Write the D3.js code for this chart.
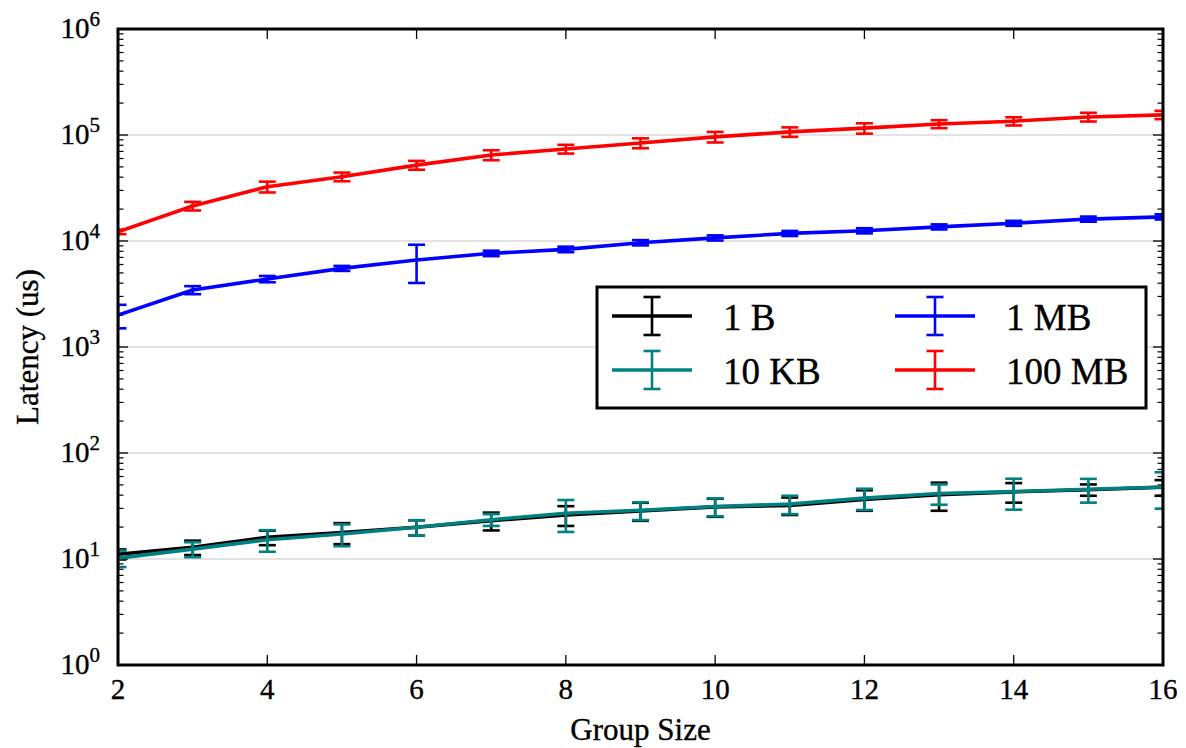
<!DOCTYPE html>
<html>
<head>
<meta charset="utf-8">
<script src="https://cdn.jsdelivr.net/npm/d3@7"></script>
<style>
  html, body { margin: 0; padding: 0; background: #fff; }
  svg { display: block; }
</style>
</head>
<body>
<svg id="chart" width="1186" height="748"></svg>
<script>
// ---- data ----
const groupSizes = [2, 3, 4, 5, 6, 7, 8, 9, 10, 11, 12, 13, 14, 15, 16];
const seriesNames = ["1 B", "10 KB", "1 MB", "100 MB"];
const seriesColors = ["#000000", "#008080", "#0000ff", "#ff0000"];

const lat1B   = [11.1, 12.9, 16.0, 17.8, 19.9, 23.0, 26.0, 28.4, 31.0, 32.0, 36.5, 40.5, 43.0, 45.0, 47.5];
const err1B   = [1.2, 2.0, 2.5, 4.0, 3.3, 4.4, 5.5, 5.5, 6.0, 6.0, 8.0, 12.0, 9.0, 5.5, 8.0];
const lat10KB = [10.2, 12.4, 15.2, 17.2, 19.9, 23.5, 27.0, 28.8, 31.3, 33.0, 37.5, 41.5, 43.2, 45.5, 47.8];
const err10KB = [1.8, 2.0, 3.5, 4.0, 3.3, 3.0, 9.0, 5.5, 6.0, 6.5, 8.5, 9.0, 14.0, 11.5, 18.0];
const lat1MB  = [2000, 3450, 4380, 5520, 6620, 7650, 8340, 9640, 10700, 11800, 12500, 13600, 14700, 16100, 16900];
const err1MB  = [500, 300, 300, 300, 2600, 450, 500, 550, 600, 650, 700, 750, 800, 900, 950];
const lat100MB = [12200, 21400, 32500, 40400, 52000, 64800, 73800, 84000, 96000, 107000, 116000, 127000, 135000, 148000, 155000];
const err100MB = [600, 2000, 3800, 3800, 5000, 7000, 7000, 9000, 11000, 11000, 13000, 11000, 12000, 14000, 14000];

const xTicks = [2, 4, 6, 8, 10, 12, 14, 16];
const yDecades = [0, 1, 2, 3, 4, 5, 6];

const seriesValues = [lat1B, lat10KB, lat1MB, lat100MB];
const seriesErrors = [err1B, err10KB, err1MB, err100MB];

// ---- layout ----
const FONT = '"Liberation Serif", "Times New Roman", serif';
const L = 118, R = 1163, T = 29, B = 665;
const svg = d3.select("#chart");
const x = d3.scaleLinear().domain([2, 16]).range([L, R]);
const y = d3.scaleLog().domain([1, 1e6]).range([B, T]);

function styleText(sel, size) {
  return sel.style("font-family", FONT).style("font-size", size + "px")
    .style("fill", "#000").style("stroke", "#000").style("stroke-width", "0.35px");
}

svg.append("defs").append("clipPath").attr("id", "plotclip")
  .append("rect").attr("x", L).attr("y", T).attr("width", R - L).attr("height", B - T);

// grid
svg.append("g").selectAll("line").data(yDecades.slice(1, -1)).join("line")
  .attr("x1", L).attr("x2", R)
  .attr("y1", d => y(Math.pow(10, d))).attr("y2", d => y(Math.pow(10, d)))
  .attr("stroke", "#c8c8c8").attr("stroke-width", 1.2);

// y ticks (major + minor), left and right, inward
const minorVals = [];
for (let e = 0; e < 6; e++) for (let m = 2; m <= 9; m++) minorVals.push(m * Math.pow(10, e));
const majorVals = yDecades.map(d => Math.pow(10, d));
const tickG = svg.append("g").attr("stroke", "#000");
[[L, 1], [R, -1]].forEach(([sx, dir]) => {
  tickG.append("g").selectAll("line").data(majorVals).join("line")
    .attr("x1", sx).attr("x2", sx + dir * 10)
    .attr("y1", d => y(d)).attr("y2", d => y(d)).attr("stroke-width", 1.3);
  tickG.append("g").selectAll("line").data(minorVals).join("line")
    .attr("x1", sx).attr("x2", sx + dir * 5.5)
    .attr("y1", d => y(d)).attr("y2", d => y(d)).attr("stroke-width", 1.2);
});
// x ticks top and bottom, inward
[[B, -1], [T, 1]].forEach(([sy, dir]) => {
  tickG.append("g").selectAll("line").data(xTicks).join("line")
    .attr("x1", d => x(d)).attr("x2", d => x(d))
    .attr("y1", sy).attr("y2", sy + dir * 10).attr("stroke-width", 1.3);
});

// y tick labels
const yl = svg.append("g");
yDecades.forEach(d => {
  const t = styleText(yl.append("text"), 29).attr("x", 100).attr("y", y(Math.pow(10, d)) + 9)
    .attr("text-anchor", "end");
  t.append("tspan").text("10");
  t.append("tspan").attr("dy", -12).style("font-size", "21px").text(String(d));
});

// x tick labels
styleText(svg.append("g").selectAll("text").data(xTicks).join("text"), 29)
  .attr("x", d => x(d)).attr("y", 699).attr("text-anchor", "middle").text(d => d);

// axis labels
styleText(svg.append("text"), 31).attr("x", (L + R) / 2).attr("y", 740)
  .attr("text-anchor", "middle").text("Group Size");
styleText(svg.append("text"), 31).attr("transform", `translate(38,${(T + B) / 2}) rotate(-90)`)
  .attr("text-anchor", "middle").text("Latency (us)");

// series
const plot = svg.append("g").attr("clip-path", "url(#plotclip)");
const line = d3.line().x(d => x(d[0])).y(d => y(d[1]));
const capW = 8.5;
seriesNames.forEach((name, i) => {
  const vals = seriesValues[i], errs = seriesErrors[i], col = seriesColors[i];
  const pts = groupSizes.map((g, k) => [g, vals[k], errs[k]]);
  const g = plot.append("g");
  g.append("path").datum(pts).attr("d", line).attr("fill", "none")
    .attr("stroke", col).attr("stroke-width", 3.6).attr("stroke-linejoin", "round");
  const eb = g.append("g").attr("stroke", col).attr("stroke-width", 2.6);
  eb.selectAll("line.bar").data(pts).join("line").attr("class", "bar")
    .attr("x1", d => x(d[0])).attr("x2", d => x(d[0]))
    .attr("y1", d => y(d[1] + d[2])).attr("y2", d => y(Math.max(d[1] - d[2], 0.5)));
  eb.selectAll("line.capt").data(pts).join("line").attr("class", "capt")
    .attr("x1", d => x(d[0]) - capW).attr("x2", d => x(d[0]) + capW)
    .attr("y1", d => y(d[1] + d[2])).attr("y2", d => y(d[1] + d[2]));
  eb.selectAll("line.capb").data(pts).join("line").attr("class", "capb")
    .attr("x1", d => x(d[0]) - capW).attr("x2", d => x(d[0]) + capW)
    .attr("y1", d => y(Math.max(d[1] - d[2], 0.5))).attr("y2", d => y(Math.max(d[1] - d[2], 0.5)));
});

// frame
svg.append("rect").attr("x", L).attr("y", T).attr("width", R - L).attr("height", B - T)
  .attr("fill", "none").attr("stroke", "#000").attr("stroke-width", 3);

// legend
const lg = svg.append("g");
lg.append("rect").attr("x", 597).attr("y", 287).attr("width", 549).attr("height", 121)
  .attr("fill", "#fff").attr("stroke", "#000").attr("stroke-width", 3);
const legPos = [[652, 316], [652, 370], [935, 316], [935, 370]];
seriesNames.forEach((name, i) => {
  const [cx, cy] = legPos[i], col = seriesColors[i];
  const g = lg.append("g").attr("stroke", col);
  g.append("line").attr("x1", cx - 40).attr("x2", cx + 40).attr("y1", cy).attr("y2", cy).attr("stroke-width", 3.6);
  g.append("line").attr("x1", cx).attr("x2", cx).attr("y1", cy - 19).attr("y2", cy + 19).attr("stroke-width", 2.6);
  g.append("line").attr("x1", cx - capW).attr("x2", cx + capW).attr("y1", cy - 19).attr("y2", cy - 19).attr("stroke-width", 2.6);
  g.append("line").attr("x1", cx - capW).attr("x2", cx + capW).attr("y1", cy + 19).attr("y2", cy + 19).attr("stroke-width", 2.6);
  styleText(lg.append("text"), 37).attr("x", cx + 71).attr("y", cy + 14).text(name);
});
</script>
</body>
</html>
